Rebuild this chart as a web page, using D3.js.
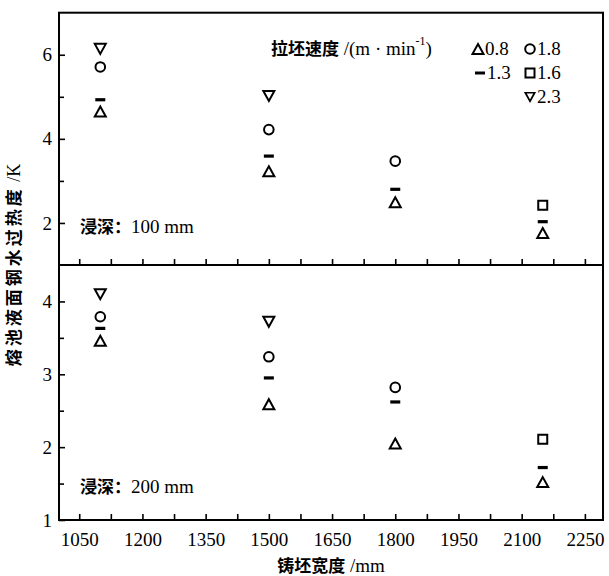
<!DOCTYPE html>
<html>
<head>
<meta charset="utf-8">
<script src="https://cdn.jsdelivr.net/npm/d3@7"></script>
<style>
  body { margin: 0; background: #fff; }
  .serif { font-family: "Liberation Serif", "Times New Roman", serif; }
  .cjk { font-family: "Noto Sans CJK SC", sans-serif; font-weight: 700; }
</style>
</head>
<body>
<div id="chart"></div>
<script>
// slab widths (mm) and casting speeds
var widths = [1100, 1500, 1800, 2150];
var xTicks = [1050, 1200, 1350, 1500, 1650, 1800, 1950, 2100, 2250];
var xMinor = [1125, 1275, 1425, 1575, 1725, 1875, 2025, 2175];
var speedLabels = ["0.8", "1.3", "1.8", "1.6", "2.3"];

// superheat (K), immersion depth 100 mm
var top08 = [4.65, 3.23, 2.49, 1.76];
var top13 = [4.93, 3.59, 2.80, 2.03];
var top18 = [5.71, 4.22, 3.47, null];
var top16 = [null, null, null, 2.42];
var top23 = [6.14, 5.02, null, null];

// superheat (K), immersion depth 200 mm
var bot08 = [3.46, 2.59, 2.05, 1.52];
var bot13 = [3.63, 2.95, 2.62, 1.72];
var bot18 = [3.79, 3.24, 2.82, null];
var bot16 = [null, null, null, 2.11];
var bot23 = [4.10, 3.72, null, null];

var topTicks = [2, 4, 6], topMinor = [3, 5];
var botTicks = [1, 2, 3, 4], botMinor = [1.5, 2.5, 3.5];

var svg = d3.select("#chart").append("svg")
  .attr("width", 609)
  .attr("height", 576);

var x = d3.scaleLinear().domain([1002, 2293]).range([59, 603]);
var yTop = d3.scaleLinear().domain([1, 7]).range([265, 12.7]);
var yBot = d3.scaleLinear().domain([1, 4.5]).range([520, 265]);

// marker shapes, centred on their bounding box
var triUp = { draw: function(c, s) { var w = 11, h = 10; c.moveTo(0, -h/2); c.lineTo(w/2, h/2); c.lineTo(-w/2, h/2); c.closePath(); } };
var triDown = { draw: function(c, s) { var w = 11, h = 10; c.moveTo(0, h/2); c.lineTo(w/2, -h/2); c.lineTo(-w/2, -h/2); c.closePath(); } };
var square = { draw: function(c, s) { var a = 4.5; c.moveTo(-a, -a); c.lineTo(a, -a); c.lineTo(a, a); c.lineTo(-a, a); c.closePath(); } };
var circle = { draw: function(c, s) { c.moveTo(4.8, 0); c.arc(0, 0, 4.8, 0, 2 * Math.PI); } };
var dash = { draw: function(c, s) { c.moveTo(-5, 0); c.lineTo(5, 0); } };

var shapes = [triUp, dash, circle, square, triDown];

function drawPanel(y, series, ticks, minor, showLabels) {
  var g = svg.append("g");

  // x axis (ticks point inward)
  g.append("g")
    .attr("transform", "translate(0," + y.range()[0] + ")")
    .call(d3.axisBottom(x).tickValues(xTicks).tickSize(-6).tickSizeOuter(0).tickPadding(13)
      .tickFormat(showLabels ? d3.format("d") : ""));
  g.append("g")
    .attr("transform", "translate(0," + y.range()[0] + ")")
    .call(d3.axisBottom(x).tickValues(xMinor).tickSize(-6).tickSizeOuter(0).tickFormat(""));

  // y axis
  g.append("g")
    .attr("transform", "translate(" + x.range()[0] + ",0)")
    .call(d3.axisLeft(y).tickValues(ticks).tickSize(-6).tickSizeOuter(0).tickPadding(7)
      .tickFormat(d3.format("d")));
  g.append("g")
    .attr("transform", "translate(" + x.range()[0] + ",0)")
    .call(d3.axisLeft(y).tickValues(minor).tickSize(-5).tickSizeOuter(0).tickFormat(""));

  g.selectAll(".domain").remove();
  g.selectAll(".tick line").attr("stroke", "#000").attr("stroke-width", 1.6);
  g.selectAll(".tick text")
    .attr("class", "serif")
    .style("font-size", "19px")
    .attr("fill", "#000");

  // points
  series.forEach(function(vals, i) {
    var pts = widths.map(function(w, j) { return { w: w, v: vals[j] }; })
      .filter(function(d) { return d.v != null; });
    g.selectAll(null)
      .data(pts)
      .enter()
      .append("path")
      .attr("d", d3.symbol().type(shapes[i]))
      .attr("transform", function(d) { return "translate(" + x(d.w) + "," + y(d.v) + ")"; })
      .attr("fill", "none")
      .attr("stroke", "#000")
      .attr("stroke-width", i === 1 ? 3.2 : 2);
  });
}

drawPanel(yTop, [top08, top13, top18, top16, top23], topTicks, topMinor, false);
drawPanel(yBot, [bot08, bot13, bot18, bot16, bot23], botTicks, botMinor, true);

// frame and divider
svg.append("rect")
  .attr("x", 59).attr("y", 12.7)
  .attr("width", 544).attr("height", 507.3)
  .attr("fill", "none").attr("stroke", "#000").attr("stroke-width", 2);
svg.append("line")
  .attr("x1", 59).attr("x2", 603)
  .attr("y1", 265).attr("y2", 265)
  .attr("stroke", "#000").attr("stroke-width", 2);

// depth annotations
function depthLabel(yy, txt) {
  var t = svg.append("text").attr("x", 80).attr("y", yy).style("font-size", "17px");
  t.append("tspan").attr("class", "cjk").text("浸深：");
  t.append("tspan").attr("class", "serif").style("font-size", "19px").text(txt);
}
depthLabel(233, "100 mm");
depthLabel(493, "200 mm");

// legend
var lt = svg.append("text").attr("x", 271).attr("y", 55).style("font-size", "17px");
lt.append("tspan").attr("class", "cjk").text("拉坯速度");
lt.append("tspan").attr("class", "serif").style("font-size", "19px").text(" /(m · min");
lt.append("tspan").attr("class", "serif").style("font-size", "12px").attr("dy", -10).text("-1");
lt.append("tspan").attr("class", "serif").style("font-size", "19px").attr("dy", 10).text(")");

var legendPos = [[478, 49], [480, 73], [530, 49], [530, 73], [530, 97]];
speedLabels.forEach(function(lab, i) {
  var p = legendPos[i];
  svg.append("path")
    .attr("d", d3.symbol().type(shapes[i]))
    .attr("transform", "translate(" + p[0] + "," + p[1] + ")" + (i === 4 ? " scale(0.85)" : ""))
    .attr("fill", "none")
    .attr("stroke", "#000")
    .attr("stroke-width", i === 1 ? 3 : 2);
  svg.append("text")
    .attr("class", "serif")
    .attr("x", p[0] + 7)
    .attr("y", p[1] + 6)
    .style("font-size", "19px")
    .text(lab);
});

// axis titles
svg.append("text")
  .attr("transform", "translate(20,265) rotate(-90)")
  .attr("text-anchor", "middle")
  .style("font-size", "17px")
  .call(function(t) {
    t.append("tspan").attr("class", "cjk").style("letter-spacing", "3px").text("熔池液面钢水过热度");
    t.append("tspan").attr("class", "serif").style("font-size", "18px").text(" /K");
  });

svg.append("text")
  .attr("x", 331)
  .attr("y", 572)
  .attr("text-anchor", "middle")
  .style("font-size", "17px")
  .call(function(t) {
    t.append("tspan").attr("class", "cjk").text("铸坯宽度");
    t.append("tspan").attr("class", "serif").style("font-size", "19px").text(" /mm");
  });
</script>
</body>
</html>
